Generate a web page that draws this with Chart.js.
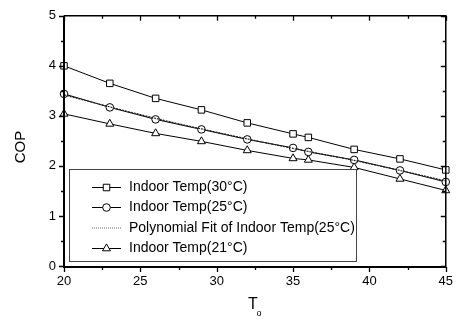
<!DOCTYPE html>
<html>
<head>
<meta charset="utf-8">
<script src="https://cdn.jsdelivr.net/npm/chart.js@4.4.1/dist/chart.umd.min.js"></script>
<style>
html,body{margin:0;padding:0;background:#fff;}
#wrap{width:461px;height:320px;}
</style>
</head>
<body>
<div id="wrap"><canvas id="c" width="461" height="320"></canvas></div>
<script>
// ---- data ----
const xValues = [20, 23, 26, 29, 32, 35, 36, 39, 42, 45];
const cop30 = [4.00, 3.65, 3.35, 3.12, 2.86, 2.64, 2.57, 2.33, 2.14, 1.92];
const cop25 = [3.44, 3.17, 2.93, 2.73, 2.53, 2.36, 2.28, 2.12, 1.91, 1.68];
const fit25 = [3.42, 3.18, 2.95, 2.74, 2.54, 2.35, 2.29, 2.11, 1.91, 1.70];
const cop21 = [3.04, 2.84, 2.65, 2.49, 2.31, 2.15, 2.12, 1.97, 1.74, 1.51];
const seriesLabels = ['Indoor Temp(30°C)', 'Indoor Temp(25°C)', 'Polynomial Fit of Indoor Temp(25°C)', 'Indoor Temp(21°C)'];
const xTicks = [20, 25, 30, 35, 40, 45];
const yTicks = [0, 1, 2, 3, 4, 5];

const FONT = '"Liberation Sans", Arial, sans-serif';
const pts = arr => arr.map((v, i) => ({x: xValues[i], y: v}));

function markerDs(label, arr, style, r) {
  return {
    label, data: pts(arr), borderColor: '#000', borderWidth: 1, tension: 0,
    pointStyle: style, pointRadius: r, pointBackgroundColor: '#fff',
    pointBorderColor: '#000', pointBorderWidth: 1, fill: false
  };
}

const datasets = [
  markerDs(seriesLabels[0], cop30, 'rect', 4.6),
  {label: seriesLabels[2], data: pts(fit25), borderColor: '#222', borderWidth: 1.2,
   borderDash: [2, 1], pointRadius: 0, tension: 0.3, fill: false},
  markerDs(seriesLabels[1], cop25, 'circle', 3.8),
  markerDs(seriesLabels[3], cop21, 'triangle', 4.6)
];

const framePlugin = {
  id: 'frame',
  afterDraw(chart) {
    const {ctx, chartArea: a, scales} = chart;
    const xs = scales.x, ys = scales.y;
    ctx.save();
    ctx.strokeStyle = '#000';
    // axis lines
    ctx.lineWidth = 2;
    ctx.beginPath();
    ctx.moveTo(a.left, a.top); ctx.lineTo(a.left, a.bottom + 1); ctx.lineTo(a.right, a.bottom + 1);
    ctx.stroke();
    ctx.lineWidth = 1.5;
    ctx.beginPath();
    ctx.moveTo(a.left, a.top); ctx.lineTo(a.right, a.top); ctx.lineTo(a.right, a.bottom + 1);
    ctx.stroke();
    // ticks
    ctx.lineWidth = 1.3;
    ctx.beginPath();
    for (let v = 20; v <= 45.001; v += 2.5) {
      const px = Math.round(xs.getPixelForValue(v)) + 0.5;
      const major = Math.abs(v / 5 - Math.round(v / 5)) < 1e-6;
      const L = major ? 5 : 3;
      ctx.moveTo(px, a.bottom + 1); ctx.lineTo(px, a.bottom + 1 + L);
      ctx.moveTo(px, a.top); ctx.lineTo(px, a.top + L);
    }
    for (let v = 0; v <= 5.001; v += 0.5) {
      const py = Math.round(ys.getPixelForValue(v)) + 0.5;
      const major = Math.abs(v - Math.round(v)) < 1e-6;
      const L = major ? 5 : 3;
      ctx.moveTo(a.left, py); ctx.lineTo(a.left - L, py);
      ctx.moveTo(a.right, py); ctx.lineTo(a.right - L, py);
    }
    ctx.stroke();

    // axis titles
    ctx.fillStyle = '#000';
    ctx.textAlign = 'center';
    ctx.textBaseline = 'middle';
    ctx.save();
    ctx.translate(21, 147);
    ctx.rotate(-Math.PI / 2);
    ctx.font = '15px ' + FONT;
    ctx.fillText('COP', 0, 0);
    ctx.restore();
    ctx.font = '16px ' + FONT;
    ctx.textBaseline = 'alphabetic';
    ctx.fillText('T', 253, 309);
    ctx.font = '9px ' + FONT;
    ctx.fillText('o', 259, 316);
    ctx.restore();
  }
};

const legendPlugin = {
  id: 'boxLegend',
  afterDraw(chart) {
    const ctx = chart.ctx;
    const bx = 69.5, by = 169.5, bw = 287, bh = 92;
    ctx.save();
    ctx.fillStyle = '#fff';
    ctx.fillRect(bx, by, bw, bh);
    ctx.strokeStyle = '#444';
    ctx.lineWidth = 1;
    ctx.strokeRect(bx, by, bw, bh);
    const rows = [
      {label: seriesLabels[0], style: 'rect', r: 4.6},
      {label: seriesLabels[1], style: 'circle', r: 3.8},
      {label: seriesLabels[2], style: null},
      {label: seriesLabels[3], style: 'triangle', r: 4.6}
    ];
    const ys = [187, 207, 227.5, 248];
    rows.forEach((row, i) => {
      const y = ys[i] + 0.5;
      ctx.beginPath();
      if (row.style) {
        ctx.strokeStyle = '#000'; ctx.setLineDash([]); ctx.lineWidth = 1;
      } else {
        ctx.strokeStyle = '#666'; ctx.setLineDash([1, 1]); ctx.lineWidth = 1;
      }
      ctx.moveTo(92, y); ctx.lineTo(121, y);
      ctx.stroke();
      ctx.setLineDash([]);
      if (row.style) {
        ctx.fillStyle = '#fff'; ctx.strokeStyle = '#000'; ctx.lineWidth = 1;
        Chart.helpers.drawPoint(ctx, {pointStyle: row.style, radius: row.r, rotation: 0, borderWidth: 1}, 106.5, y);
      }
      ctx.fillStyle = '#000';
      ctx.font = '14px ' + FONT;
      ctx.textAlign = 'left';
      ctx.textBaseline = 'middle';
      ctx.fillText(row.label, 129, y);
    });
    ctx.restore();
  }
};

new Chart(document.getElementById('c'), {
  type: 'line',
  data: {datasets},
  options: {
    responsive: false,
    animation: false,
    clip: false,
    layout: {padding: {top: 8, right: 10, left: 0, bottom: 0}},
    plugins: {legend: {display: false}, tooltip: {enabled: false}},
    scales: {
      x: {
        type: 'linear', min: 20, max: 45,
        afterBuildTicks: s => { s.ticks = xTicks.map(v => ({value: v})); },
        afterFit: s => { s.height = 54; },
        grid: {display: false, drawTicks: false},
        border: {display: false},
        ticks: {color: '#000', font: {family: FONT, size: 13}, padding: 8, maxRotation: 0, autoSkip: false}
      },
      y: {
        type: 'linear', min: 0, max: 5,
        afterBuildTicks: s => { s.ticks = yTicks.map(v => ({value: v})); },
        afterFit: s => { s.width = 64; },
        grid: {display: false, drawTicks: false},
        border: {display: false},
        ticks: {color: '#000', font: {family: FONT, size: 13}, padding: 8}
      }
    }
  },
  plugins: [framePlugin, legendPlugin]
});
</script>
</body>
</html>
